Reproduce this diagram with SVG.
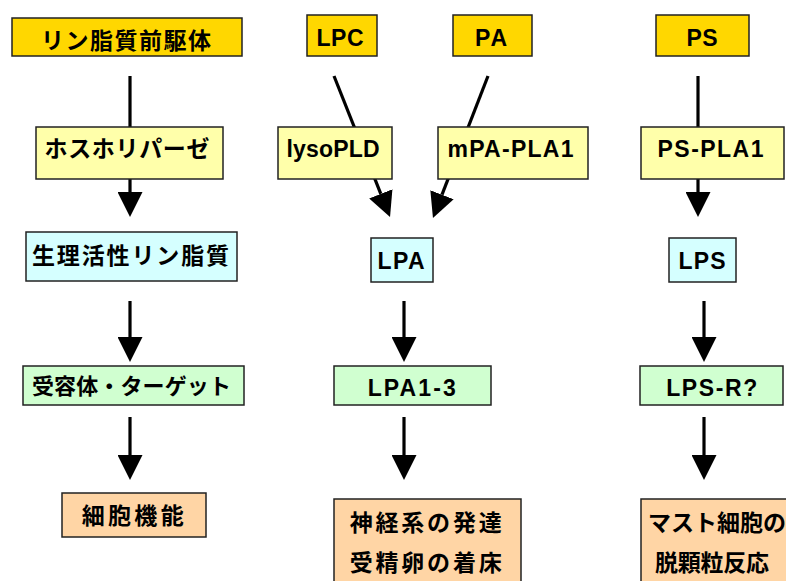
<svg xmlns="http://www.w3.org/2000/svg" width="786" height="581" viewBox="0 0 786 581">
<defs>
<marker id="ah" viewBox="0 0 25 25" refX="0" refY="12.5" markerWidth="25" markerHeight="25" markerUnits="userSpaceOnUse" orient="auto">
<path d="M0,0 L25,12.5 L0,25 Z" fill="#000"/>
</marker>
<style>
.bx{stroke:#222;stroke-width:1.5}
.src{fill:#FFD700}
.enz{fill:#FFFFAA}
.lip{fill:#D5FFFF}
.rec{fill:#D0FFD0}
.fn{fill:#FFD5A5}
.c line{stroke:#000;stroke-width:3.2;fill:none}
.a{marker-end:url(#ah)}
text{font-family:"Liberation Sans","Noto Sans CJK JP",sans-serif;font-weight:bold;fill:#000;text-anchor:middle}
.j{font-size:23px}
.l{font-size:23px}
.st{text-anchor:start}
</style>
</defs>
<rect width="786" height="581" fill="#fff"/>
<g id="connectors" class="c">
<line x1="130" y1="76" x2="130" y2="192" class="a"/>
<line x1="130" y1="301" x2="130" y2="337" class="a"/>
<line x1="130" y1="417" x2="130" y2="455" class="a"/>
<line x1="334" y1="76" x2="380.8" y2="193.8" class="a"/>
<line x1="488" y1="76" x2="442" y2="194.7" class="a"/>
<line x1="404" y1="301" x2="404" y2="337" class="a"/>
<line x1="404" y1="417" x2="404" y2="455" class="a"/>
<line x1="698" y1="76" x2="698" y2="192" class="a"/>
<line x1="704" y1="301" x2="704" y2="337" class="a"/>
<line x1="704" y1="417" x2="704" y2="455" class="a"/>
</g>
<g id="n-precursor"><rect class="bx src" x="12" y="18" width="230" height="38"/><text class="j" x="126" y="49" textLength="170" lengthAdjust="spacing">リン脂質前駆体</text></g>
<g id="n-lpc"><rect class="bx src" x="307" y="15" width="70" height="41"/><text class="l" x="340" y="46" textLength="47" lengthAdjust="spacing">LPC</text></g>
<g id="n-pa"><rect class="bx src" x="453" y="15" width="79" height="41"/><text class="l" x="491" y="46" textLength="32" lengthAdjust="spacing">PA</text></g>
<g id="n-ps"><rect class="bx src" x="656" y="15" width="93" height="41"/><text class="l" x="702" y="46" textLength="31" lengthAdjust="spacing">PS</text></g>
<g id="n-phospholipase"><rect class="bx enz" x="36" y="127" width="187" height="52"/><text class="j" x="127" y="157" textLength="165" lengthAdjust="spacing">ホスホリパーゼ</text></g>
<g id="n-lysopld"><rect class="bx enz" x="278" y="127" width="114" height="52"/><text class="l" x="333" y="157" textLength="93" lengthAdjust="spacing">lysoPLD</text></g>
<g id="n-mpapla1"><rect class="bx enz" x="438" y="127" width="150" height="52"/><text class="l" x="510.5" y="157" textLength="126" lengthAdjust="spacing">mPA-PLA1</text></g>
<g id="n-pspla1"><rect class="bx enz" x="641" y="127" width="143" height="52"/><text class="l" x="710.5" y="157" textLength="106" lengthAdjust="spacing">PS-PLA1</text></g>
<g id="n-bioactive"><rect class="bx lip" x="26" y="232" width="211" height="49"/><text class="j" x="130.5" y="264" textLength="197" lengthAdjust="spacing">生理活性リン脂質</text></g>
<g id="n-lpa"><rect class="bx lip" x="371" y="238" width="62" height="44"/><text class="l" x="401" y="269" textLength="47" lengthAdjust="spacing">LPA</text></g>
<g id="n-lps"><rect class="bx lip" x="669" y="238" width="67" height="44"/><text class="l" x="702" y="269" textLength="47" lengthAdjust="spacing">LPS</text></g>
<g id="n-receptor"><rect class="bx rec" x="23" y="366" width="221" height="39"/><text class="j" x="131.5" y="394" style="font-size:22px" textLength="199" lengthAdjust="spacing">受容体・ターゲット</text></g>
<g id="n-lpa13"><rect class="bx rec" x="334" y="366" width="157" height="39"/><text class="l" x="411.7" y="396" textLength="88" lengthAdjust="spacing">LPA1-3</text></g>
<g id="n-lpsr"><rect class="bx rec" x="640" y="366" width="143" height="39"/><text class="l" x="711.7" y="396" textLength="91" lengthAdjust="spacing">LPS-R?</text></g>
<g id="n-cellfunc"><rect class="bx fn" x="62" y="493" width="144" height="44"/><text class="j" x="132.7" y="524" textLength="102" lengthAdjust="spacing">細胞機能</text></g>
<g id="n-neuro"><rect class="bx fn" x="334" y="499" width="187" height="100"/><text class="j" x="425.7" y="531" textLength="152" lengthAdjust="spacing">神経系の発達</text><text class="j" x="425.7" y="571" textLength="152" lengthAdjust="spacing">受精卵の着床</text></g>
<g id="n-mast"><rect class="bx fn" x="641" y="499" width="160" height="100"/><text class="j st" x="648" y="531" textLength="138" lengthAdjust="spacing">マスト細胞の</text><text class="j st" x="655" y="571" textLength="114" lengthAdjust="spacing">脱顆粒反応</text></g>
</svg>
